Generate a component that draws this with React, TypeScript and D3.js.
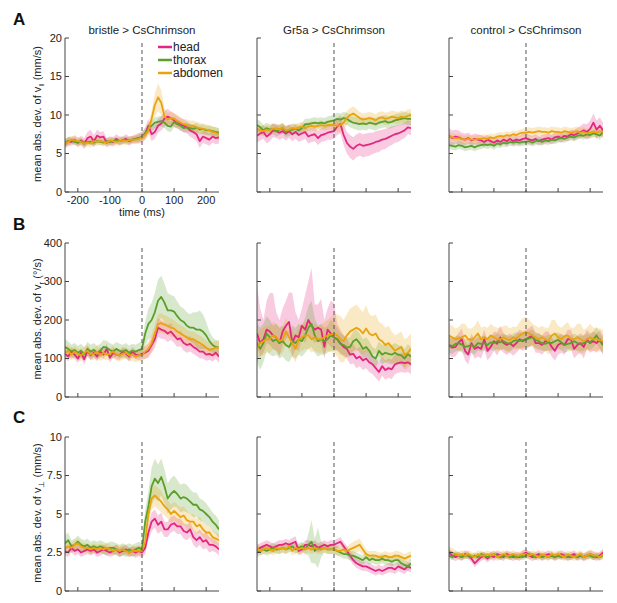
import React from "react";
import * as d3 from "d3";

// time axis shared by every panel (ms relative to stimulus onset)
const timeMs = d3.range(-240, 241, 10);
const xTicks = [-200, -100, 0, 100, 200];

const genotypes = ["bristle > CsChrimson", "Gr5a > CsChrimson", "control > CsChrimson"];
const bodyParts = ["head", "thorax", "abdomen"];
const partColors = ["#e3277f", "#5b9f2b", "#e9a30c"];

const rowLetters = ["A", "B", "C"];
const rowMax = [20, 400, 10];
const rowTicks = [
  [0, 5, 10, 15, 20],
  [0, 100, 200, 300, 400],
  [0, 2.5, 5, 7.5, 10],
];
const rowSub = ["\u2016", "r", "\u22a5"];
const rowUnit = ["(mm/s)", "(\u00b0/s)", "(mm/s)"];

// ---- row A: v parallel (mm/s) ----
const aBristleHead = [6.2, 6.6, 6.5, 6.8, 6.4, 6.7, 6.3, 7.0, 7.2, 6.6, 7.3, 7.1, 7.2, 6.4, 6.6, 6.5, 6.9, 6.6, 6.7, 6.9, 6.6, 6.8, 6.9, 7.0,
  7.1, 7.6, 8.6, 7.5, 7.8, 8.6, 8.9, 9.5, 9.8, 9.6, 9.3, 9.1, 8.8, 8.6, 8.4, 8.0, 7.8, 7.5, 6.6, 7.2, 7.0, 6.8, 7.2, 7.0, 7.1];
const aBristleHeadErr = [0.5, 0.6, 0.5, 0.6, 0.6, 0.6, 0.7, 0.8, 0.9, 0.8, 0.8, 0.7, 0.7, 0.6, 0.6, 0.6, 0.6, 0.6, 0.5, 0.6, 0.6, 0.5, 0.6, 0.7,
  0.7, 0.8, 0.9, 0.9, 0.9, 0.9, 0.9, 1.0, 1.0, 0.9, 0.9, 0.8, 0.8, 0.8, 0.8, 0.8, 0.9, 0.9, 0.9, 0.8, 0.8, 0.8, 0.8, 0.8, 0.8];
const aBristleThorax = [6.4, 6.6, 6.7, 6.5, 6.4, 6.6, 6.3, 6.5, 6.5, 6.4, 6.6, 6.5, 6.4, 6.6, 6.5, 6.6, 6.7, 6.6, 6.7, 6.8, 6.7, 6.8, 6.9, 7.0,
  7.2, 7.6, 8.3, 8.6, 9.0, 9.1, 9.2, 9.0, 8.6, 8.5, 9.1, 8.8, 8.6, 8.3, 8.4, 8.3, 8.2, 8.4, 8.1, 8.2, 8.0, 8.0, 7.9, 7.8, 7.7];
const aBristleThoraxErr = [0.5, 0.5, 0.4, 0.4, 0.4, 0.4, 0.4, 0.4, 0.4, 0.4, 0.4, 0.4, 0.4, 0.4, 0.4, 0.4, 0.4, 0.4, 0.4, 0.4, 0.4, 0.4, 0.4, 0.5,
  0.5, 0.6, 0.7, 0.7, 0.7, 0.7, 0.7, 0.7, 0.7, 0.7, 0.7, 0.6, 0.6, 0.6, 0.6, 0.6, 0.6, 0.6, 0.6, 0.6, 0.6, 0.6, 0.6, 0.6, 0.6];
const aBristleAbdomen = [6.3, 6.5, 6.8, 6.7, 6.6, 6.5, 6.3, 6.4, 6.3, 6.6, 6.5, 6.6, 6.5, 6.4, 6.7, 6.6, 6.5, 6.6, 6.7, 6.6, 6.7, 6.8, 6.8, 6.9,
  7.1, 7.4, 8.0, 9.5, 11.3, 12.3, 11.6, 9.8, 9.4, 9.6, 9.5, 9.2, 9.0, 8.8, 8.7, 8.6, 8.6, 8.4, 8.3, 8.2, 8.1, 8.0, 7.8, 7.7, 7.5];
const aBristleAbdomenErr = [0.6, 0.6, 0.5, 0.5, 0.5, 0.5, 0.5, 0.5, 0.5, 0.5, 0.5, 0.5, 0.5, 0.5, 0.5, 0.5, 0.5, 0.5, 0.5, 0.5, 0.5, 0.5, 0.5, 0.5,
  0.5, 0.6, 0.8, 1.1, 1.5, 1.8, 1.6, 1.1, 0.9, 0.8, 0.8, 0.8, 0.7, 0.7, 0.7, 0.7, 0.7, 0.7, 0.7, 0.7, 0.7, 0.7, 0.7, 0.7, 0.7];

const aGr5aHead = [7.3, 7.6, 7.8, 7.2, 7.5, 8.0, 7.9, 7.7, 7.9, 7.6, 7.9, 7.5, 7.8, 7.4, 7.6, 7.8, 7.2, 7.4, 7.5, 7.0, 7.4, 7.5, 7.7, 7.8,
  7.9, 8.5, 8.8, 7.4, 6.4, 5.9, 5.6, 6.0, 6.2, 6.0, 6.1, 6.2, 6.3, 6.5, 6.6, 6.8, 6.9, 7.1, 7.3, 7.5, 7.6, 7.8, 8.0, 8.4, 8.3];
const aGr5aHeadErr = [0.9, 0.9, 0.9, 0.9, 0.9, 0.9, 0.9, 0.9, 0.9, 0.9, 0.9, 0.9, 0.9, 0.9, 0.9, 0.9, 0.9, 0.9, 0.9, 0.9, 0.9, 0.9, 0.9, 1.0,
  1.0, 1.1, 1.2, 1.3, 1.4, 1.5, 1.5, 1.5, 1.5, 1.5, 1.5, 1.5, 1.4, 1.4, 1.4, 1.3, 1.3, 1.2, 1.2, 1.1, 1.1, 1.0, 1.0, 0.9, 0.9];
const aGr5aThorax = [8.7, 8.4, 8.0, 8.3, 8.1, 8.2, 7.9, 8.1, 8.3, 7.8, 8.0, 8.1, 8.2, 8.0, 8.3, 8.8, 8.8, 8.9, 9.0, 8.9, 9.0, 8.9, 9.1, 9.2,
  9.3, 9.5, 9.4, 9.6, 9.5, 9.2, 9.0, 8.9, 8.8, 8.9, 8.8, 9.0, 8.9, 8.8, 9.0, 9.1, 9.2, 9.0, 9.1, 9.3, 9.4, 9.5, 9.6, 9.5, 9.5];
const aGr5aThoraxErr = [0.8, 0.8, 0.7, 0.7, 0.7, 0.7, 0.7, 0.7, 0.7, 0.7, 0.7, 0.7, 0.7, 0.7, 0.7, 0.7, 0.7, 0.7, 0.7, 0.7, 0.7, 0.7, 0.7, 0.7,
  0.8, 0.8, 0.8, 0.8, 0.8, 0.8, 0.8, 0.8, 0.8, 0.8, 0.8, 0.8, 0.8, 0.8, 0.8, 0.8, 0.8, 0.8, 0.8, 0.8, 0.8, 0.8, 0.8, 0.8, 0.8];
const aGr5aAbdomen = [8.2, 8.0, 7.9, 8.1, 8.0, 8.2, 8.3, 8.1, 8.4, 8.0, 8.1, 8.3, 8.2, 8.4, 8.5, 8.3, 8.5, 8.6, 8.5, 8.6, 8.7, 8.6, 8.7, 8.7,
  8.7, 8.6, 8.7, 9.0, 9.6, 10.0, 10.2, 9.9, 9.6, 9.4, 9.5, 9.6, 9.5, 9.3, 9.6, 9.7, 9.5, 9.6, 9.8, 9.7, 9.6, 9.8, 9.7, 9.9, 10.0];
const aGr5aAbdomenErr = [0.6, 0.6, 0.6, 0.6, 0.6, 0.6, 0.6, 0.6, 0.6, 0.6, 0.6, 0.6, 0.6, 0.6, 0.6, 0.6, 0.6, 0.6, 0.6, 0.6, 0.6, 0.6, 0.6, 0.6,
  0.7, 0.8, 0.9, 0.9, 0.9, 0.9, 0.9, 0.9, 0.8, 0.8, 0.8, 0.8, 0.8, 0.8, 0.8, 0.8, 0.8, 0.8, 0.8, 0.8, 0.8, 0.8, 0.8, 0.8, 0.8];

const aControlHead = [7.3, 7.0, 7.2, 7.1, 6.9, 6.8, 7.0, 6.7, 6.9, 6.8, 6.7, 6.5, 6.8, 6.6, 6.4, 6.7, 6.5, 6.8, 6.6, 6.9, 6.6, 6.8, 6.7, 6.9,
  7.0, 6.8, 6.7, 6.9, 6.6, 6.8, 6.9, 7.0, 6.8, 7.1, 7.2, 7.0, 7.3, 7.2, 7.5, 7.4, 7.6, 7.8, 8.0, 7.8, 8.2, 9.0, 8.1, 8.6, 8.0];
const aControlHeadErr = [1.0, 1.0, 0.9, 0.9, 0.8, 0.8, 0.7, 0.7, 0.7, 0.7, 0.7, 0.7, 0.6, 0.6, 0.6, 0.6, 0.6, 0.6, 0.6, 0.6, 0.6, 0.6, 0.6, 0.7,
  0.7, 0.6, 0.6, 0.6, 0.6, 0.6, 0.6, 0.6, 0.6, 0.6, 0.6, 0.6, 0.6, 0.6, 0.6, 0.7, 0.7, 0.8, 0.9, 1.0, 1.1, 1.2, 1.2, 1.1, 1.0];
const aControlThorax = [6.1, 6.0, 5.9, 6.1, 6.0, 5.8, 5.9, 6.0, 5.8, 6.0, 6.1, 6.2, 6.1, 6.2, 6.0, 6.3, 6.2, 6.4, 6.3, 6.5, 6.4, 6.5, 6.4, 6.5,
  6.5, 6.6, 6.4, 6.6, 6.7, 6.5, 6.7, 6.6, 6.8, 6.7, 6.9, 7.0, 6.9, 7.1, 7.2, 7.1, 7.3, 7.4, 7.3, 7.5, 7.4, 7.6, 7.5, 7.3, 7.8];
const aControlThoraxErr = [0.5, 0.5, 0.5, 0.5, 0.5, 0.5, 0.5, 0.5, 0.5, 0.5, 0.5, 0.5, 0.5, 0.5, 0.5, 0.5, 0.5, 0.5, 0.5, 0.5, 0.5, 0.5, 0.5, 0.5,
  0.5, 0.5, 0.5, 0.5, 0.5, 0.5, 0.5, 0.5, 0.5, 0.5, 0.5, 0.5, 0.5, 0.5, 0.5, 0.5, 0.5, 0.5, 0.5, 0.5, 0.5, 0.5, 0.5, 0.5, 0.5];
const aControlAbdomen = [7.3, 7.1, 7.0, 7.0, 6.9, 6.8, 6.9, 6.8, 6.8, 6.9, 6.9, 7.0, 6.9, 7.1, 7.0, 7.2, 7.3, 7.2, 7.4, 7.3, 7.5, 7.4, 7.6, 7.7,
  7.7, 7.8, 7.7, 7.8, 7.9, 7.8, 7.8, 7.7, 7.9, 7.8, 7.8, 7.7, 7.9, 7.8, 7.7, 7.8, 7.9, 7.7, 7.8, 7.6, 7.7, 7.8, 7.7, 7.9, 7.8];
const aControlAbdomenErr = [0.5, 0.5, 0.5, 0.5, 0.5, 0.5, 0.5, 0.5, 0.5, 0.5, 0.5, 0.5, 0.5, 0.5, 0.5, 0.5, 0.5, 0.5, 0.5, 0.5, 0.5, 0.5, 0.5, 0.5,
  0.6, 0.6, 0.6, 0.6, 0.6, 0.6, 0.6, 0.6, 0.6, 0.6, 0.6, 0.6, 0.6, 0.6, 0.6, 0.6, 0.6, 0.6, 0.6, 0.6, 0.6, 0.6, 0.6, 0.6, 0.6];

// ---- row B: v rotational (deg/s) ----
const bBristleHead = [112, 105, 118, 110, 100, 115, 98, 120, 108, 115, 105, 118, 110, 125, 102, 115, 110, 108, 118, 112, 105, 118, 110, 108,
  112, 115, 120, 135, 150, 180, 175, 172, 165, 170, 160, 150, 152, 140, 135, 138, 130, 125, 118, 118, 110, 112, 108, 115, 105];
const bBristleHeadErr = [12, 12, 12, 12, 12, 12, 14, 14, 12, 12, 12, 12, 12, 14, 12, 12, 12, 12, 12, 12, 12, 12, 12, 12,
  14, 16, 18, 20, 22, 24, 24, 22, 22, 22, 20, 20, 20, 20, 20, 20, 18, 18, 18, 18, 16, 16, 16, 16, 16];
const bBristleThorax = [130, 125, 118, 122, 115, 120, 112, 125, 118, 122, 115, 120, 130, 128, 122, 118, 125, 120, 118, 122, 115, 120, 118, 122,
  125, 165, 190, 200, 220, 250, 260, 245, 225, 225, 222, 210, 200, 195, 185, 180, 180, 175, 175, 170, 160, 145, 135, 130, 128];
const bBristleThoraxErr = [20, 20, 18, 18, 18, 18, 18, 18, 18, 18, 18, 18, 18, 18, 18, 18, 18, 18, 18, 18, 18, 18, 18, 18,
  20, 30, 40, 45, 50, 55, 55, 50, 45, 40, 40, 38, 35, 35, 35, 35, 40, 45, 50, 45, 35, 25, 20, 18, 18];
const bBristleAbdomen = [115, 120, 110, 118, 112, 108, 115, 120, 110, 112, 118, 108, 115, 110, 112, 118, 110, 108, 112, 115, 108, 110, 105, 108,
  110, 118, 125, 140, 165, 190, 192, 188, 185, 180, 178, 170, 165, 160, 155, 150, 150, 145, 140, 135, 128, 122, 125, 128, 128];
const bBristleAbdomenErr = [15, 15, 15, 15, 15, 15, 15, 15, 15, 15, 15, 15, 15, 15, 15, 15, 15, 15, 15, 15, 15, 15, 15, 15,
  16, 18, 20, 22, 24, 25, 25, 25, 24, 24, 22, 22, 22, 22, 20, 20, 20, 20, 20, 20, 18, 18, 18, 18, 18];

const bGr5aHead = [165, 140, 150, 175, 170, 160, 155, 140, 170, 185, 195, 140, 160, 155, 185, 175, 200, 185, 175, 180, 175, 130, 175, 165,
  155, 150, 140, 130, 125, 110, 112, 100, 105, 95, 100, 90, 85, 75, 65, 80, 70, 75, 72, 85, 88, 90, 88, 90, 85];
const bGr5aHeadErr = [35, 35, 35, 35, 35, 35, 35, 35, 35, 35, 35, 35, 35, 35, 35, 35, 35, 35, 35, 35, 35, 30, 35, 35,
  30, 28, 26, 25, 25, 25, 25, 25, 25, 25, 25, 25, 25, 25, 25, 25, 25, 25, 25, 25, 25, 25, 25, 25, 25];
const bGr5aHeadErrUp = [125, 90, 50, 75, 100, 110, 65, 60, 60, 65, 77, 130, 60, 45, 45, 90, 100, 150, 65, 60, 80, 70, 55, 85,
  90, 40, 35, 30, 28, 26, 25, 25, 25, 25, 25, 25, 25, 25, 25, 25, 25, 25, 25, 25, 25, 25, 25, 25, 25];
const bGr5aThorax = [140, 125, 140, 165, 155, 145, 150, 140, 145, 135, 130, 145, 140, 150, 145, 160, 180, 190, 160, 145, 150, 145, 150, 160,
  155, 150, 138, 135, 128, 130, 145, 150, 140, 125, 130, 120, 105, 100, 120, 110, 115, 112, 110, 115, 110, 108, 100, 112, 105];
const bGr5aThoraxErr = [50, 55, 50, 45, 45, 40, 40, 40, 40, 40, 40, 40, 40, 40, 40, 45, 55, 60, 45, 40, 40, 35, 35, 40,
  35, 30, 28, 26, 25, 25, 25, 25, 25, 25, 25, 25, 25, 25, 25, 25, 25, 25, 25, 25, 25, 25, 25, 25, 25];
const bGr5aAbdomen = [130, 140, 145, 150, 150, 160, 155, 145, 150, 170, 155, 140, 125, 150, 155, 160, 160, 150, 155, 150, 150, 155, 160, 162,
  165, 160, 150, 145, 160, 170, 175, 180, 175, 165, 178, 165, 160, 165, 150, 145, 135, 140, 130, 120, 125, 130, 110, 115, 125];
const bGr5aAbdomenErr = [35, 35, 35, 35, 35, 35, 35, 35, 35, 35, 35, 35, 35, 35, 35, 35, 35, 35, 35, 35, 35, 40, 40, 45,
  50, 55, 60, 55, 55, 60, 60, 60, 55, 55, 60, 50, 50, 50, 45, 45, 45, 45, 40, 40, 40, 40, 40, 40, 40];

const bControlHead = [135, 128, 130, 142, 150, 120, 110, 140, 125, 130, 125, 150, 120, 130, 145, 138, 155, 140, 135, 140, 132, 140, 150, 145,
  150, 155, 160, 140, 140, 135, 145, 145, 130, 120, 135, 140, 135, 150, 150, 125, 135, 140, 130, 150, 140, 145, 140, 150, 135];
const bControlHeadErr = [25, 25, 25, 25, 28, 25, 25, 25, 25, 25, 25, 25, 25, 25, 25, 30, 30, 25, 25, 25, 25, 25, 25, 25,
  25, 25, 25, 25, 25, 25, 25, 25, 25, 25, 25, 25, 25, 25, 25, 25, 25, 25, 30, 25, 25, 25, 25, 25, 25];
const bControlThorax = [135, 132, 138, 140, 136, 130, 132, 135, 130, 140, 138, 140, 135, 142, 140, 145, 142, 145, 140, 138, 145, 148, 146, 148,
  150, 152, 155, 148, 145, 140, 138, 142, 140, 145, 148, 142, 135, 138, 140, 145, 140, 138, 140, 145, 142, 150, 160, 145, 135];
const bControlThoraxErr = [20, 20, 20, 20, 20, 20, 20, 20, 20, 20, 20, 20, 20, 20, 20, 20, 20, 20, 20, 20, 20, 20, 20, 20,
  20, 20, 20, 20, 20, 20, 20, 20, 20, 20, 20, 20, 20, 20, 20, 20, 20, 20, 20, 20, 20, 20, 22, 20, 20];
const bControlAbdomen = [160, 155, 150, 152, 155, 160, 150, 148, 155, 165, 150, 155, 150, 160, 155, 150, 150, 155, 150, 148, 155, 152, 160, 165,
  168, 165, 160, 155, 150, 155, 150, 145, 160, 165, 155, 150, 158, 160, 150, 150, 155, 150, 145, 150, 155, 150, 150, 148, 145];
const bControlAbdomenErr = [30, 30, 28, 30, 35, 30, 28, 30, 30, 35, 30, 28, 30, 30, 28, 30, 30, 30, 35, 30, 28, 30, 35, 40,
  40, 35, 30, 30, 30, 30, 30, 35, 40, 35, 30, 30, 30, 35, 30, 30, 35, 40, 30, 30, 35, 30, 30, 30, 30];

// ---- row C: v perpendicular (mm/s) ----
const cBristleHead = [2.6, 2.5, 2.8, 2.6, 2.7, 2.5, 2.6, 2.7, 2.6, 2.7, 2.5, 2.6, 2.7, 2.6, 2.5, 2.6, 2.7, 2.5, 2.6, 2.7, 2.5, 2.6, 2.5, 2.6,
  2.5, 2.8, 3.8, 4.5, 4.7, 4.3, 4.5, 4.0, 4.0, 4.3, 4.4, 4.2, 4.2, 3.9, 3.8, 4.0, 3.5, 3.3, 3.5, 3.2, 3.3, 3.0, 3.0, 2.9, 2.7];
const cBristleHeadErr = [0.3, 0.3, 0.3, 0.3, 0.3, 0.3, 0.3, 0.3, 0.3, 0.3, 0.3, 0.3, 0.3, 0.3, 0.3, 0.3, 0.3, 0.3, 0.3, 0.3, 0.3, 0.3, 0.35, 0.35,
  0.35, 0.4, 0.5, 0.6, 0.6, 0.6, 0.6, 0.5, 0.5, 0.5, 0.5, 0.5, 0.5, 0.5, 0.5, 0.5, 0.5, 0.5, 0.5, 0.5, 0.5, 0.5, 0.4, 0.4, 0.4];
const cBristleThorax = [3.1, 3.3, 2.9, 3.0, 3.2, 3.0, 2.9, 3.0, 2.8, 2.9, 2.8, 2.9, 2.8, 2.7, 2.8, 2.8, 2.7, 2.6, 2.7, 2.6, 2.7, 2.6, 2.7, 2.8,
  2.7, 4.5, 5.5, 6.8, 7.3, 7.0, 7.4, 6.8, 6.0, 6.3, 6.5, 6.3, 6.0, 6.1, 6.0, 5.8, 5.6, 5.6, 5.3, 5.2, 5.0, 4.8, 4.5, 4.3, 4.0];
const cBristleThoraxErr = [0.5, 0.5, 0.4, 0.4, 0.4, 0.4, 0.4, 0.4, 0.4, 0.4, 0.4, 0.4, 0.4, 0.4, 0.4, 0.4, 0.4, 0.4, 0.4, 0.4, 0.4, 0.4, 0.4, 0.4,
  0.4, 0.8, 1.0, 1.2, 1.3, 1.2, 1.2, 1.1, 1.0, 1.0, 1.0, 0.9, 0.9, 0.9, 0.9, 0.8, 0.8, 0.8, 0.7, 0.7, 0.7, 0.6, 0.6, 0.6, 0.6];
const cBristleAbdomen = [2.8, 2.9, 2.8, 3.0, 3.1, 2.9, 2.8, 2.8, 2.7, 2.8, 2.7, 2.8, 2.7, 2.8, 2.7, 2.6, 2.7, 2.6, 2.7, 2.6, 2.5, 2.6, 2.6, 2.6,
  2.6, 3.2, 5.0, 6.0, 6.2, 6.0, 5.8, 5.5, 5.3, 5.0, 5.2, 5.0, 4.8, 4.9, 4.6, 4.5, 4.5, 4.2, 4.3, 4.0, 3.8, 3.8, 3.5, 3.4, 3.3];
const cBristleAbdomenErr = [0.3, 0.3, 0.3, 0.3, 0.3, 0.3, 0.3, 0.3, 0.3, 0.3, 0.3, 0.3, 0.3, 0.3, 0.3, 0.3, 0.3, 0.3, 0.3, 0.3, 0.3, 0.3, 0.3, 0.3,
  0.3, 0.5, 0.7, 0.7, 0.7, 0.7, 0.7, 0.6, 0.6, 0.6, 0.6, 0.6, 0.6, 0.6, 0.6, 0.5, 0.5, 0.5, 0.5, 0.5, 0.5, 0.4, 0.4, 0.4, 0.4];

const cGr5aHead = [2.7, 2.8, 2.9, 3.0, 2.9, 2.8, 2.9, 3.0, 3.0, 3.1, 3.0, 3.1, 3.2, 2.6, 2.7, 3.0, 3.0, 2.9, 3.0, 2.8, 2.9, 3.0, 2.9, 3.0,
  3.0, 3.1, 3.2, 2.9, 2.6, 2.3, 2.0, 1.8, 1.7, 1.6, 1.6, 1.5, 1.4, 1.3, 1.4, 1.3, 1.4, 1.5, 1.5, 1.4, 1.6, 1.5, 1.4, 1.6, 1.5];
const cGr5aHeadErr = [0.3, 0.3, 0.3, 0.3, 0.3, 0.3, 0.3, 0.3, 0.3, 0.3, 0.3, 0.35, 0.35, 0.3, 0.3, 0.3, 0.3, 0.3, 0.3, 0.3, 0.3, 0.3, 0.3, 0.3,
  0.3, 0.3, 0.3, 0.3, 0.3, 0.3, 0.3, 0.3, 0.3, 0.3, 0.3, 0.3, 0.3, 0.3, 0.3, 0.3, 0.3, 0.3, 0.3, 0.3, 0.3, 0.3, 0.3, 0.3, 0.3];
const cGr5aThorax = [2.5, 2.6, 2.7, 2.6, 2.7, 2.8, 2.7, 2.7, 2.8, 2.7, 2.8, 2.9, 2.7, 2.8, 2.9, 2.7, 3.0, 3.2, 2.6, 2.8, 2.7, 2.8, 2.7, 2.7,
  2.7, 2.6, 2.5, 2.4, 2.4, 2.3, 2.3, 2.2, 2.1, 2.0, 2.2, 2.0, 2.1, 2.0, 2.0, 2.1, 2.0, 2.0, 1.9, 2.0, 2.0, 1.8, 1.7, 1.6, 1.8];
const cGr5aThoraxErr = [0.3, 0.3, 0.3, 0.3, 0.3, 0.3, 0.3, 0.3, 0.3, 0.3, 0.3, 0.3, 0.3, 0.3, 0.3, 0.3, 0.7, 1.4, 0.8, 1.3, 0.5, 0.3, 0.3, 0.3,
  0.3, 0.3, 0.3, 0.3, 0.3, 0.3, 0.3, 0.3, 0.3, 0.3, 0.3, 0.3, 0.3, 0.3, 0.3, 0.3, 0.3, 0.3, 0.3, 0.3, 0.3, 0.3, 0.3, 0.3, 0.3];
const cGr5aAbdomen = [2.8, 2.6, 2.7, 2.8, 2.7, 2.6, 2.8, 2.7, 2.8, 2.7, 2.9, 2.6, 2.8, 2.7, 2.8, 2.7, 2.8, 2.7, 2.8, 2.7, 2.7, 2.8, 2.7, 2.7,
  2.7, 2.6, 2.6, 2.7, 2.6, 2.7, 2.8, 2.9, 3.0, 2.7, 2.4, 2.3, 2.3, 2.3, 2.2, 2.2, 2.3, 2.2, 2.2, 2.3, 2.3, 2.2, 2.1, 2.2, 2.3];
const cGr5aAbdomenErr = [0.3, 0.3, 0.3, 0.3, 0.3, 0.3, 0.3, 0.3, 0.3, 0.3, 0.3, 0.3, 0.3, 0.3, 0.3, 0.3, 0.3, 0.3, 0.3, 0.3, 0.3, 0.3, 0.3, 0.3,
  0.3, 0.3, 0.3, 0.3, 0.3, 0.35, 0.4, 0.4, 0.4, 0.35, 0.3, 0.3, 0.3, 0.3, 0.3, 0.3, 0.3, 0.3, 0.3, 0.3, 0.3, 0.3, 0.3, 0.3, 0.3];

const cControlHead = [2.5, 2.3, 2.2, 2.3, 2.2, 2.4, 2.3, 2.1, 1.8, 2.0, 2.2, 2.3, 2.1, 2.3, 2.2, 2.4, 2.3, 2.2, 2.4, 2.3, 2.2, 2.3, 2.2, 2.4,
  2.5, 2.3, 2.2, 2.3, 2.4, 2.2, 2.3, 2.4, 2.3, 2.2, 2.3, 2.4, 2.3, 2.2, 2.3, 2.4, 2.2, 2.3, 2.2, 2.3, 2.4, 2.3, 2.2, 2.3, 2.5];
const cControlHeadErr = [0.25, 0.25, 0.25, 0.25, 0.25, 0.25, 0.25, 0.25, 0.25, 0.25, 0.25, 0.25, 0.25, 0.25, 0.25, 0.25, 0.25, 0.25, 0.25, 0.25, 0.25, 0.25, 0.25, 0.25,
  0.25, 0.25, 0.25, 0.25, 0.25, 0.25, 0.25, 0.25, 0.25, 0.25, 0.25, 0.25, 0.25, 0.25, 0.25, 0.25, 0.25, 0.25, 0.25, 0.25, 0.25, 0.25, 0.25, 0.25, 0.25];
const cControlThorax = [2.3, 2.2, 2.4, 2.3, 2.2, 2.3, 2.3, 2.2, 2.3, 2.2, 2.4, 2.3, 2.2, 2.3, 2.4, 2.3, 2.2, 2.3, 2.3, 2.2, 2.3, 2.2, 2.3, 2.2,
  2.3, 2.4, 2.3, 2.2, 2.3, 2.2, 2.3, 2.2, 2.3, 2.2, 2.3, 2.2, 2.3, 2.2, 2.2, 2.3, 2.2, 2.3, 2.2, 2.3, 2.3, 2.2, 2.3, 2.2, 2.3];
const cControlThoraxErr = [0.2, 0.2, 0.2, 0.2, 0.2, 0.2, 0.2, 0.2, 0.2, 0.2, 0.2, 0.2, 0.2, 0.2, 0.2, 0.2, 0.2, 0.2, 0.2, 0.2, 0.2, 0.2, 0.2, 0.2,
  0.2, 0.2, 0.2, 0.2, 0.2, 0.2, 0.2, 0.2, 0.2, 0.2, 0.2, 0.2, 0.2, 0.2, 0.2, 0.2, 0.2, 0.2, 0.2, 0.2, 0.2, 0.2, 0.2, 0.2, 0.2];
const cControlAbdomen = [2.6, 2.5, 2.4, 2.3, 2.4, 2.3, 2.4, 2.3, 2.2, 2.4, 2.3, 2.3, 2.4, 2.3, 2.4, 2.2, 2.3, 2.4, 2.3, 2.3, 2.4, 2.3, 2.3, 2.4,
  2.4, 2.3, 2.4, 2.3, 2.2, 2.4, 2.3, 2.2, 2.4, 2.3, 2.4, 2.3, 2.2, 2.4, 2.3, 2.2, 2.3, 2.4, 2.2, 2.3, 2.4, 2.3, 2.3, 2.2, 2.4];
const cControlAbdomenErr = [0.3, 0.3, 0.25, 0.25, 0.25, 0.25, 0.25, 0.25, 0.25, 0.25, 0.25, 0.25, 0.25, 0.25, 0.25, 0.25, 0.25, 0.25, 0.25, 0.25, 0.25, 0.25, 0.25, 0.25,
  0.25, 0.25, 0.25, 0.25, 0.25, 0.25, 0.25, 0.25, 0.25, 0.25, 0.25, 0.25, 0.25, 0.25, 0.25, 0.25, 0.25, 0.25, 0.25, 0.3, 0.3, 0.3, 0.25, 0.25, 0.3];

type Series = { mean: number[]; err: number[]; errUp?: number[] };

// panels[row][col] -> [head, thorax, abdomen]
const panels: Series[][][] = [
  [
    [{ mean: aBristleHead, err: aBristleHeadErr }, { mean: aBristleThorax, err: aBristleThoraxErr }, { mean: aBristleAbdomen, err: aBristleAbdomenErr }],
    [{ mean: aGr5aHead, err: aGr5aHeadErr }, { mean: aGr5aThorax, err: aGr5aThoraxErr }, { mean: aGr5aAbdomen, err: aGr5aAbdomenErr }],
    [{ mean: aControlHead, err: aControlHeadErr }, { mean: aControlThorax, err: aControlThoraxErr }, { mean: aControlAbdomen, err: aControlAbdomenErr }],
  ],
  [
    [{ mean: bBristleHead, err: bBristleHeadErr }, { mean: bBristleThorax, err: bBristleThoraxErr }, { mean: bBristleAbdomen, err: bBristleAbdomenErr }],
    [{ mean: bGr5aHead, err: bGr5aHeadErr, errUp: bGr5aHeadErrUp }, { mean: bGr5aThorax, err: bGr5aThoraxErr }, { mean: bGr5aAbdomen, err: bGr5aAbdomenErr }],
    [{ mean: bControlHead, err: bControlHeadErr }, { mean: bControlThorax, err: bControlThoraxErr }, { mean: bControlAbdomen, err: bControlAbdomenErr }],
  ],
  [
    [{ mean: cBristleHead, err: cBristleHeadErr }, { mean: cBristleThorax, err: cBristleThoraxErr }, { mean: cBristleAbdomen, err: cBristleAbdomenErr }],
    [{ mean: cGr5aHead, err: cGr5aHeadErr }, { mean: cGr5aThorax, err: cGr5aThoraxErr }, { mean: cGr5aAbdomen, err: cGr5aAbdomenErr }],
    [{ mean: cControlHead, err: cControlHeadErr }, { mean: cControlThorax, err: cControlThoraxErr }, { mean: cControlAbdomen, err: cControlAbdomenErr }],
  ],
];

const colLeft = [65, 257, 449];
const rowTop = [38, 243, 437];
const panelW = 154;
const panelH = 154;
const axisColor = "#444";
const textColor = "#222";
const font = "'Liberation Sans', Arial, sans-serif";

const Panel = ({ row, col }: { row: number; col: number }) => {
  const left = colLeft[col];
  const top = rowTop[row];
  const x = d3.scaleLinear().domain([-240, 240]).range([left, left + panelW]);
  const y = d3.scaleLinear().domain([0, rowMax[row]]).range([top + panelH, top]);
  const series = panels[row][col];
  const clipId = `clip-${row}-${col}`;
  const showLabels = col === 0;
  const showX = row === 0 && col === 0;

  const line = d3
    .line<number>()
    .x((_, i) => x(timeMs[i]))
    .y((d) => y(d));

  return (
    <g>
      <defs>
        <clipPath id={clipId}>
          <rect x={left} y={top} width={panelW} height={panelH} />
        </clipPath>
      </defs>
      <g clipPath={`url(#${clipId})`}>
        {series.map((s, k) => {
          const area = d3
            .area<number>()
            .x((_, i) => x(timeMs[i]))
            .y0((d, i) => y(d - s.err[i]))
            .y1((d, i) => y(d + (s.errUp ? s.errUp[i] : s.err[i])));
          return (
            <path key={`band-${k}`} d={area(s.mean) ?? ""} fill={partColors[k]} fillOpacity={0.24} stroke="none" />
          );
        })}
        {series.map((s, k) => (
          <path key={`line-${k}`} d={line(s.mean) ?? ""} fill="none" stroke={partColors[k]} strokeWidth={1.8} strokeLinejoin="round" />
        ))}
      </g>
      {/* stimulus onset */}
      <line x1={x(0)} x2={x(0)} y1={top + 5} y2={top + panelH} stroke="#555" strokeWidth={1} strokeDasharray="4,3" />
      {/* axes */}
      <line x1={left} x2={left} y1={top} y2={top + panelH} stroke={axisColor} strokeWidth={1} />
      <line x1={left} x2={left + panelW} y1={top + panelH} y2={top + panelH} stroke={axisColor} strokeWidth={1} />
      {rowTicks[row].map((t) => (
        <g key={`y-${t}`}>
          <line x1={left} x2={left + 4} y1={y(t)} y2={y(t)} stroke={axisColor} strokeWidth={1} />
          {showLabels && (
            <text x={left - 3} y={y(t)} dy="0.35em" textAnchor="end" fontSize={11} fill={textColor}>
              {t}
            </text>
          )}
        </g>
      ))}
      {xTicks.map((t) => (
        <g key={`x-${t}`}>
          <line x1={x(t)} x2={x(t)} y1={top + panelH} y2={top + panelH - 4} stroke={axisColor} strokeWidth={1} />
          {showX && (
            <text x={x(t)} y={top + panelH + 12} textAnchor="middle" fontSize={11} fill={textColor}>
              {t}
            </text>
          )}
        </g>
      ))}
      {showX && (
        <text x={left + panelW / 2} y={top + panelH + 24} textAnchor="middle" fontSize={11} fill={textColor}>
          time (ms)
        </text>
      )}
      {row === 0 && (
        <text x={left + panelW / 2} y={34} textAnchor="middle" fontSize={11.5} fill={textColor}>
          {genotypes[col]}
        </text>
      )}
    </g>
  );
};

export default function App() {
  return (
    <svg
      width={617}
      height={603}
      viewBox="0 0 617 603"
      style={{ position: "absolute", left: 0, top: 0, background: "#fff" }}
      fontFamily={font}
    >
      {rowLetters.map((letter, r) => (
        <text key={letter} x={13} y={[25, 230, 423][r]} fontSize={17} fontWeight="bold" fill="#111">
          {letter}
        </text>
      ))}
      {rowLetters.map((_, r) => {
        const cy = rowTop[r] + panelH / 2 - 1;
        return (
          <text
            key={`ylab-${r}`}
            transform={`translate(40.5,${cy}) rotate(-90)`}
            textAnchor="middle"
            fontSize={11}
            fill={textColor}
          >
            mean abs. dev. of v
            <tspan fontSize={8} dy={3}>{rowSub[r]}</tspan>
            <tspan dy={-3}> {rowUnit[r]}</tspan>
          </text>
        );
      })}
      {[0, 1, 2].map((r) =>
        [0, 1, 2].map((c) => <Panel key={`p-${r}-${c}`} row={r} col={c} />)
      )}
      {/* legend */}
      {bodyParts.map((p, k) => (
        <g key={p}>
          <line x1={158} x2={172} y1={47 + k * 13} y2={47 + k * 13} stroke={partColors[k]} strokeWidth={2.5} />
          <text x={173} y={47 + k * 13} dy="0.35em" fontSize={12} fill={textColor}>
            {p}
          </text>
        </g>
      ))}
    </svg>
  );
}
